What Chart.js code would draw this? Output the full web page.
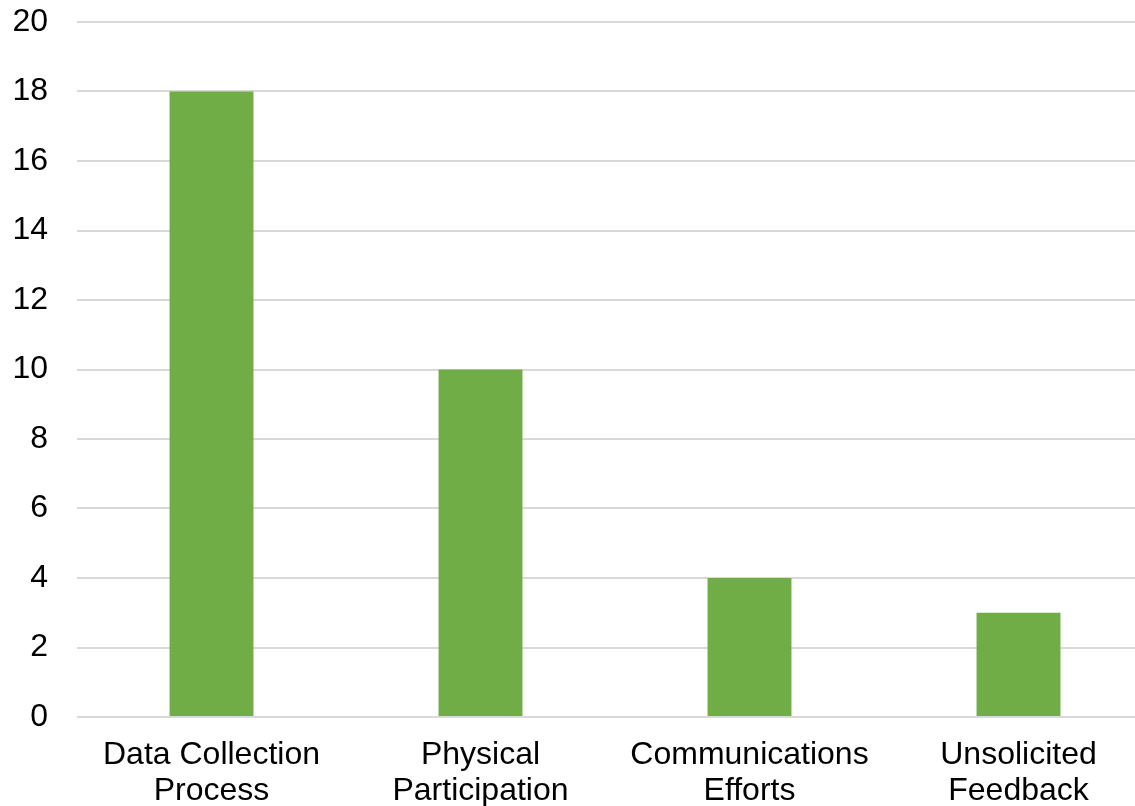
<!DOCTYPE html>
<html>
<head>
<meta charset="utf-8">
<script src="https://cdn.jsdelivr.net/npm/chart.js@4"></script>
<style>
  html, body { margin: 0; padding: 0; background: #fff; overflow: hidden; }
  #wrap { width: 1135px; height: 806px; overflow: hidden; }
</style>
</head>
<body>
<div id="wrap"><canvas id="chart" width="1153" height="830"></canvas></div>
<script>
const categories = [
  ["Data Collection", "Process"],
  ["Physical", "Participation"],
  ["Communications", "Efforts"],
  ["Unsolicited", "Feedback"]
];
const counts = [18, 10, 4, 3];
const yMin = 0, yMax = 20, yStep = 2;

const fontFamily = "'Liberation Sans', Arial, sans-serif";

const ctx = document.getElementById("chart").getContext("2d");
new Chart(ctx, {
  type: "bar",
  data: {
    labels: categories,
    datasets: [{
      data: counts,
      backgroundColor: "#70AD47",
      categoryPercentage: 1,
      barPercentage: 0.312
    }]
  },
  options: {
    responsive: false,
    animation: false,
    layout: { padding: { top: 22, left: 0, right: 0, bottom: 0 } },
    plugins: { legend: { display: false }, tooltip: { enabled: false } },
    scales: {
      x: {
        grid: { display: false, drawTicks: false },
        border: { display: false },
        ticks: {
          color: "#000",
          padding: 20,
          maxRotation: 0,
          autoSkip: false,
          font: { family: fontFamily, size: 32, lineHeight: 1.125 }
        },
        afterFit: scale => { scale.height = 113; }
      },
      y: {
        min: yMin,
        max: yMax,
        grid: { color: "#D9D9D9", lineWidth: 2, drawTicks: true, tickLength: 29, tickColor: "rgba(0,0,0,0)" },
        border: { display: false },
        ticks: {
          stepSize: yStep,
          color: "#000",
          padding: 0,
          font: { family: fontFamily, size: 32 }
        },
        afterFit: scale => { scale.width = 77; }
      }
    }
  }
});
</script>
</body>
</html>
